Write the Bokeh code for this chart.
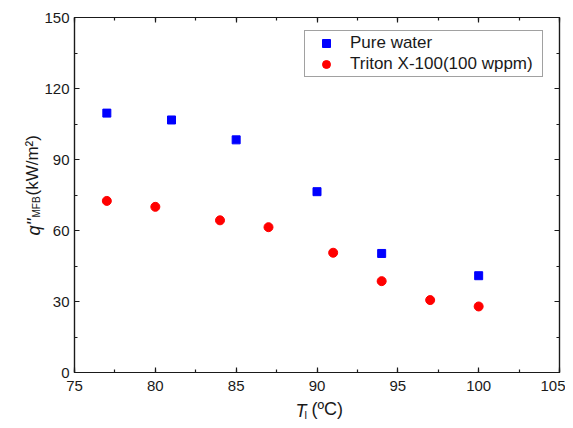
import math
from bokeh.plotting import figure
from bokeh.models import LinearAxis, Legend, LegendItem, Label, FixedTicker, Range1d
from bokeh.embed import file_html
from bokeh.resources import INLINE

# data
pure_T = [77, 81, 85, 90, 94, 100]
pure_q = [109.6, 106.7, 98.3, 76.4, 50.3, 40.9]
triton_T = [77, 80, 84, 87, 91, 94, 97, 100]
triton_q = [72.5, 70.0, 64.3, 61.4, 50.6, 38.6, 30.6, 27.9]
x_ticks = [75, 80, 85, 90, 95, 100, 105]
y_ticks = [0, 30, 60, 90, 120, 150]
series_names = ["Pure water", "Triton X-100(100 wppm)"]

FONT = "Liberation Sans"
INK = "#1a1a1a"

p = figure(width=565, height=420, output_backend="svg", toolbar_location=None,
           x_range=Range1d(75, 105), y_range=Range1d(0, 150),
           min_border_left=73, min_border_right=6, min_border_top=16, min_border_bottom=48)
p.xgrid.visible = False
p.ygrid.visible = False
p.outline_line_color = INK
p.outline_line_width = 1.2
p.background_fill_color = "white"
p.border_fill_color = "white"

r1 = p.scatter(pure_T, pure_q, marker="square", size=8, fill_color="#0000ff", line_color="#0000ff")
r2 = p.scatter(triton_T, triton_q, marker="circle", size=9, fill_color="#ff0000", line_color="#ff0000")

def style(ax, ticks, minor, show_labels, standoff):
    ax.ticker = FixedTicker(ticks=ticks, minor_ticks=minor)
    ax.major_tick_in = 5
    ax.major_tick_out = 0
    ax.minor_tick_in = 3
    ax.minor_tick_out = 0
    ax.axis_line_color = INK
    ax.axis_line_width = 1.2
    ax.major_tick_line_color = INK
    ax.minor_tick_line_color = INK
    ax.major_tick_line_width = 1.2
    ax.minor_tick_line_width = 1.2
    ax.major_label_text_font = FONT
    ax.major_label_text_color = INK
    ax.major_label_text_font_size = "15px" if show_labels else "0px"
    ax.major_label_standoff = standoff
    ax.axis_label = None

x_minor = [75 + 2.5 * i for i in range(13)]
y_minor = [15 * i for i in range(11)]

style(p.xaxis[0], x_ticks, x_minor, True, 8)
style(p.yaxis[0], y_ticks, y_minor, True, 5)
top = LinearAxis()
right = LinearAxis()
p.add_layout(top, "above")
p.add_layout(right, "right")
style(top, x_ticks, x_minor, False, 0)
style(right, y_ticks, y_minor, False, 0)

legend = Legend(items=[LegendItem(label=series_names[0], renderers=[r1]),
                       LegendItem(label=series_names[1], renderers=[r2])],
                location=(230, 295), padding=2, spacing=1, margin=0,
                glyph_width=38, glyph_height=20, label_height=20, label_standoff=5,
                label_width=190,
                label_text_font=FONT, label_text_font_size="17px", label_text_color=INK,
                border_line_color="#444444", border_line_width=1,
                background_fill_color="white")
p.add_layout(legend, "center")

a = math.pi / 2
def lab(place, x, y, text, size, style="normal", angle=0.0):
    p.add_layout(Label(x=x, y=y, x_units="screen", y_units="screen", text=text,
                       angle=angle, text_font=FONT, text_font_size=size,
                       text_font_style=style, text_color=INK,
                       text_align="left", text_baseline="alphabetic"), place)

# y-axis label pieces: q''_MFB(kW/m²)  (side panels, so they are not clipped)
lab("left", 10, 177, "(kW/m²)", "17px", "normal", a)
lab("left", 25, 155, "MFB", "10px", "normal", a)
# x-axis label pieces: T_l(ºC)
lab("left", 295, -38, "T", "18px", "italic")
lab("above", -41, -218, "q''", "18px", "italic", a)
lab("below", 237, 5, "(ºC)", "18px")
lab("right", -255, -42, "l", "11px")

open("out.html", "w").write(file_html(p, INLINE))
